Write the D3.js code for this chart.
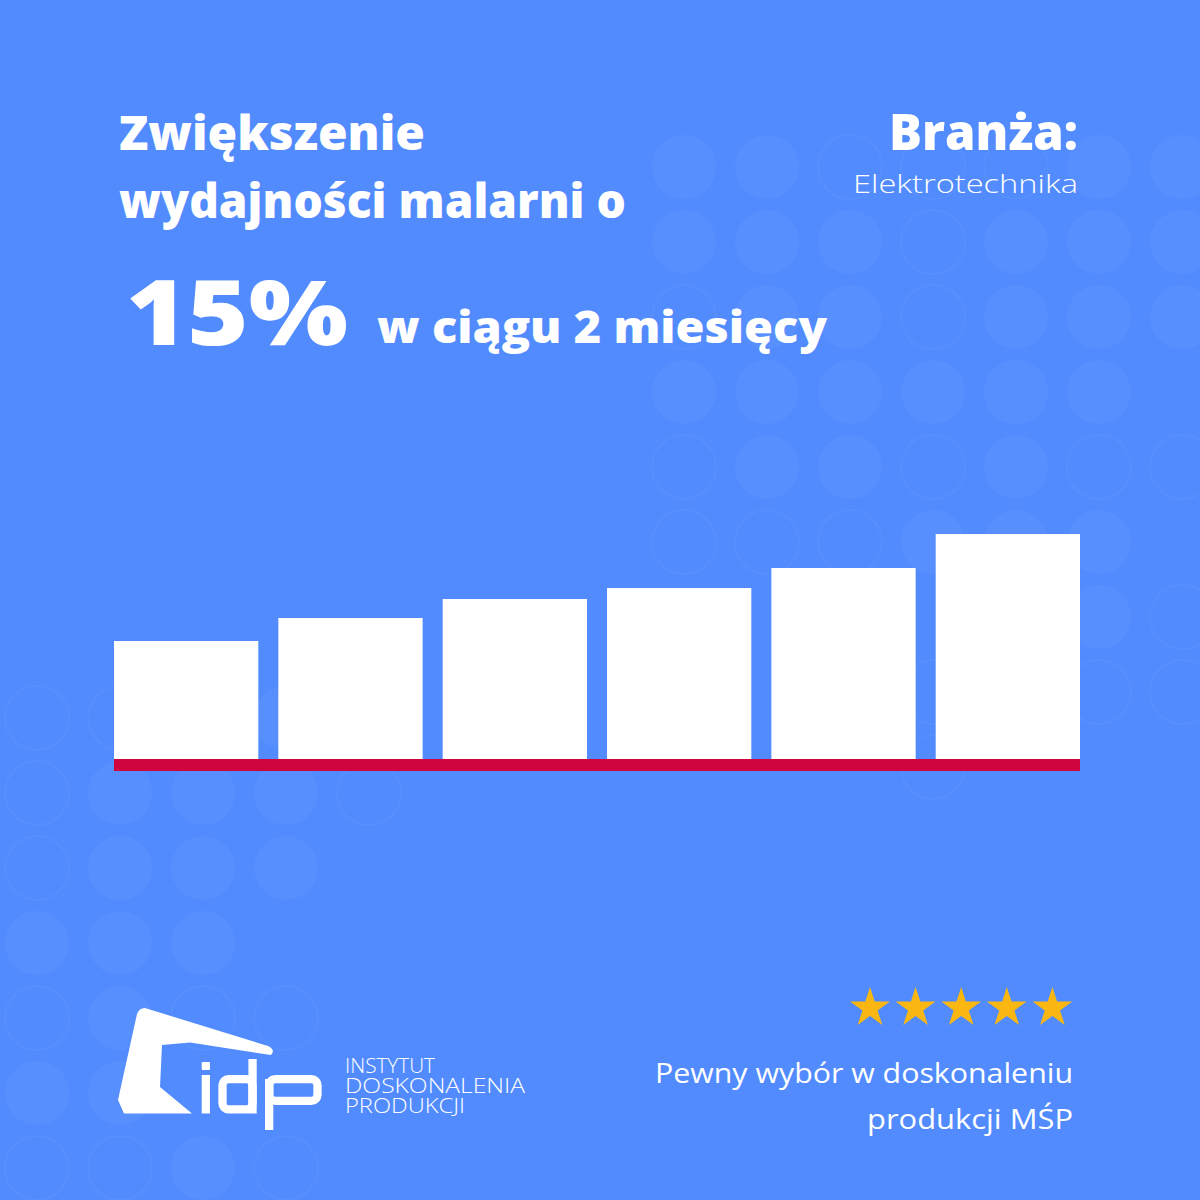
<!DOCTYPE html>
<html>
<head>
<meta charset="utf-8">
<script src="https://cdn.jsdelivr.net/npm/d3@7"></script>
<style>
  html, body { margin: 0; padding: 0; background: #518bfe; }
  svg { display: block; }
</style>
</head>
<body>
<div id="chart"></div>
<script>
// dane wykresu
var months = ['M1', 'M2', 'M3', 'M4', 'M5', 'M6'];
var output = [118, 141, 160, 171, 191, 225];

// teksty
var titleLines = ['Zwiększenie', 'wydajności malarni o'];
var bigNumber = '15%';
var subTitle = 'w ciągu 2 miesięcy';
var branchLabel = 'Branża:';
var branchName = 'Elektrotechnika';
var logoLines = ['INSTYTUT', 'DOSKONALENIA', 'PRODUKCJI'];
var taglineLines = ['Pewny wybór w doskonaleniu', 'produkcji MŚP'];
var stars = [1, 2, 3, 4, 5];

// wzór kropek w tle (f = wypełniona, o = obrys)
var dotsTopRight = [
  'ffoooff',
  'fffofff',
  'offofff',
  'ffffff.',
  'offofoo',
  'ooofff.',
  '.....fo',
  '...o.oo',
  '...o...'
];
var dotsBottomLeft = [
  'oo.f.',
  'offfo',
  'offf.',
  'fff..',
  'ofoo.',
  'ff...',
  'oofo.'
];

var width = 1200;
var height = 1200;
var bg = '#518bfe';

var svg = d3.select('#chart')
  .append('svg')
  .attr('width', width)
  .attr('height', height);

svg.append('rect')
  .attr('width', width)
  .attr('height', height)
  .attr('fill', bg);

function drawDots(rows, x0, y0) {
  var cells = [];
  rows.forEach(function(row, r) {
    row.split('').forEach(function(c, i) {
      if (c !== '.') cells.push({ kind: c, x: x0 + i * 83, y: y0 + r * 75 });
    });
  });
  svg.append('g')
    .selectAll('circle')
    .data(cells)
    .enter()
    .append('circle')
    .attr('cx', d => d.x)
    .attr('cy', d => d.y)
    .attr('r', 32)
    .attr('fill', d => d.kind === 'f' ? '#ffffff' : 'none')
    .attr('fill-opacity', 0.04)
    .attr('stroke', d => d.kind === 'o' ? '#ffffff' : 'none')
    .attr('stroke-opacity', 0.045)
    .attr('stroke-width', 1.5);
}
drawDots(dotsTopRight, 684, 167);
drawDots(dotsBottomLeft, 37, 718);

// tytuł
var font = "'Open Sans', 'DejaVu Sans', sans-serif";

svg.append('g')
  .selectAll('text')
  .data(titleLines)
  .enter()
  .append('text')
  .attr('x', 119)
  .attr('y', (d, i) => 150 + i * 68)
  .attr('fill', '#fff')
  .style('font-family', font)
  .style('font-weight', 800)
  .style('font-size', '47px')
  .attr('textLength', (d, i) => i === 0 ? 306 : 507)
  .attr('lengthAdjust', 'spacingAndGlyphs')
  .text(d => d);

svg.append('text')
  .attr('x', 126)
  .attr('y', 345)
  .attr('fill', '#fff')
  .style('font-family', font)
  .style('font-weight', 800)
  .style('font-size', '90px')
  .attr('textLength', 222)
  .attr('lengthAdjust', 'spacingAndGlyphs')
  .text(bigNumber);

svg.append('text')
  .attr('x', 377)
  .attr('y', 343)
  .attr('fill', '#fff')
  .style('font-family', font)
  .style('font-weight', 800)
  .style('font-size', '45px')
  .attr('textLength', 450)
  .attr('lengthAdjust', 'spacingAndGlyphs')
  .text(subTitle);

svg.append('text')
  .attr('x', 1078)
  .attr('y', 150)
  .attr('text-anchor', 'end')
  .attr('fill', '#fff')
  .style('font-family', font)
  .style('font-weight', 800)
  .style('font-size', '50px')
  .attr('textLength', 189)
  .attr('lengthAdjust', 'spacingAndGlyphs')
  .text(branchLabel);

svg.append('text')
  .attr('x', 1078)
  .attr('y', 193)
  .attr('text-anchor', 'end')
  .attr('fill', '#fff')
  .style('font-family', font)
  .style('font-weight', 300)
  .style('font-size', '25px')
  .attr('textLength', 225)
  .attr('lengthAdjust', 'spacingAndGlyphs')
  .text(branchName);

// słupki
var x = d3.scaleBand()
  .domain(months)
  .range([114, 1080])
  .paddingInner(0.122)
  .paddingOuter(0);

var y = d3.scaleLinear()
  .domain([0, d3.max(output)])
  .range([759, 534]);

svg.append('g')
  .selectAll('rect')
  .data(output)
  .enter()
  .append('rect')
  .attr('x', (d, i) => x(months[i]))
  .attr('y', d => y(d))
  .attr('width', x.bandwidth())
  .attr('height', d => y(0) - y(d))
  .attr('fill', '#ffffff');

// czerwona linia bazowa
svg.append('rect')
  .attr('x', x.range()[0])
  .attr('y', y(0))
  .attr('width', x.range()[1] - x.range()[0])
  .attr('height', 12)
  .attr('fill', '#d0043c');

// logo IDP
var logo = svg.append('g').attr('fill', '#fff');
logo.append('path')
  .attr('d', 'M145,1008 L268,1046 Q276,1050 271,1055 L190,1042.5 L162,1045 L160,1087 L192,1113.5 L124,1113.5 L118,1100 L137,1014 Q139,1008 145,1008 Z');
logo.append('rect').attr('x', 201.7).attr('y', 1062).attr('width', 8.3).attr('height', 8).attr('rx', 1);
logo.append('rect').attr('x', 201.7).attr('y', 1075).attr('width', 8.3).attr('height', 38.5);
logo.append('rect')
  .attr('x', 222.5).attr('y', 1079.2).attr('width', 30).attr('height', 30.1).attr('rx', 6)
  .attr('fill', 'none').attr('stroke', '#fff').attr('stroke-width', 8.3);
logo.append('rect').attr('x', 248.4).attr('y', 1059).attr('width', 8.3).attr('height', 54.5);
logo.append('rect')
  .attr('x', 269.2).attr('y', 1079.2).attr('width', 48.3).attr('height', 21.6).attr('rx', 6)
  .attr('fill', 'none').attr('stroke', '#fff').attr('stroke-width', 8.3);
logo.append('rect').attr('x', 265).attr('y', 1079).attr('width', 8.3).attr('height', 51);

// nazwa instytutu jako jeden tekst w trzech wierszach
svg.append('text')
  .attr('fill', '#fff')
  .style('font-family', font)
  .style('font-weight', 300)
  .style('font-size', '20.5px')
  .selectAll('tspan')
  .data(logoLines)
  .enter()
  .append('tspan')
  .attr('x', 345)
  .attr('y', (d, i) => 1073 + i * 20)
  .attr('textLength', (d, i) => [90, 180, 120][i])
  .attr('lengthAdjust', 'spacingAndGlyphs')
  .text(d => d);

// gwiazdki
svg.append('g')
  .selectAll('path')
  .data(stars)
  .enter()
  .append('path')
  .attr('transform', (d, i) => 'translate(' + (870 + i * 45.6) + ',1008)')
  .attr('d', d3.symbol().type(d3.symbolStar).size(495))
  .attr('fill', '#fbb711');

svg.append('g')
  .selectAll('text')
  .data(taglineLines)
  .enter()
  .append('text')
  .attr('x', 1073)
  .attr('y', (d, i) => 1083 + i * 46)
  .attr('text-anchor', 'end')
  .attr('fill', '#fff')
  .style('font-family', font)
  .style('font-weight', 400)
  .style('font-size', '28px')
  .attr('textLength', (d, i) => i === 0 ? 418 : 206)
  .attr('lengthAdjust', 'spacingAndGlyphs')
  .text(d => d);
</script>
</body>
</html>
